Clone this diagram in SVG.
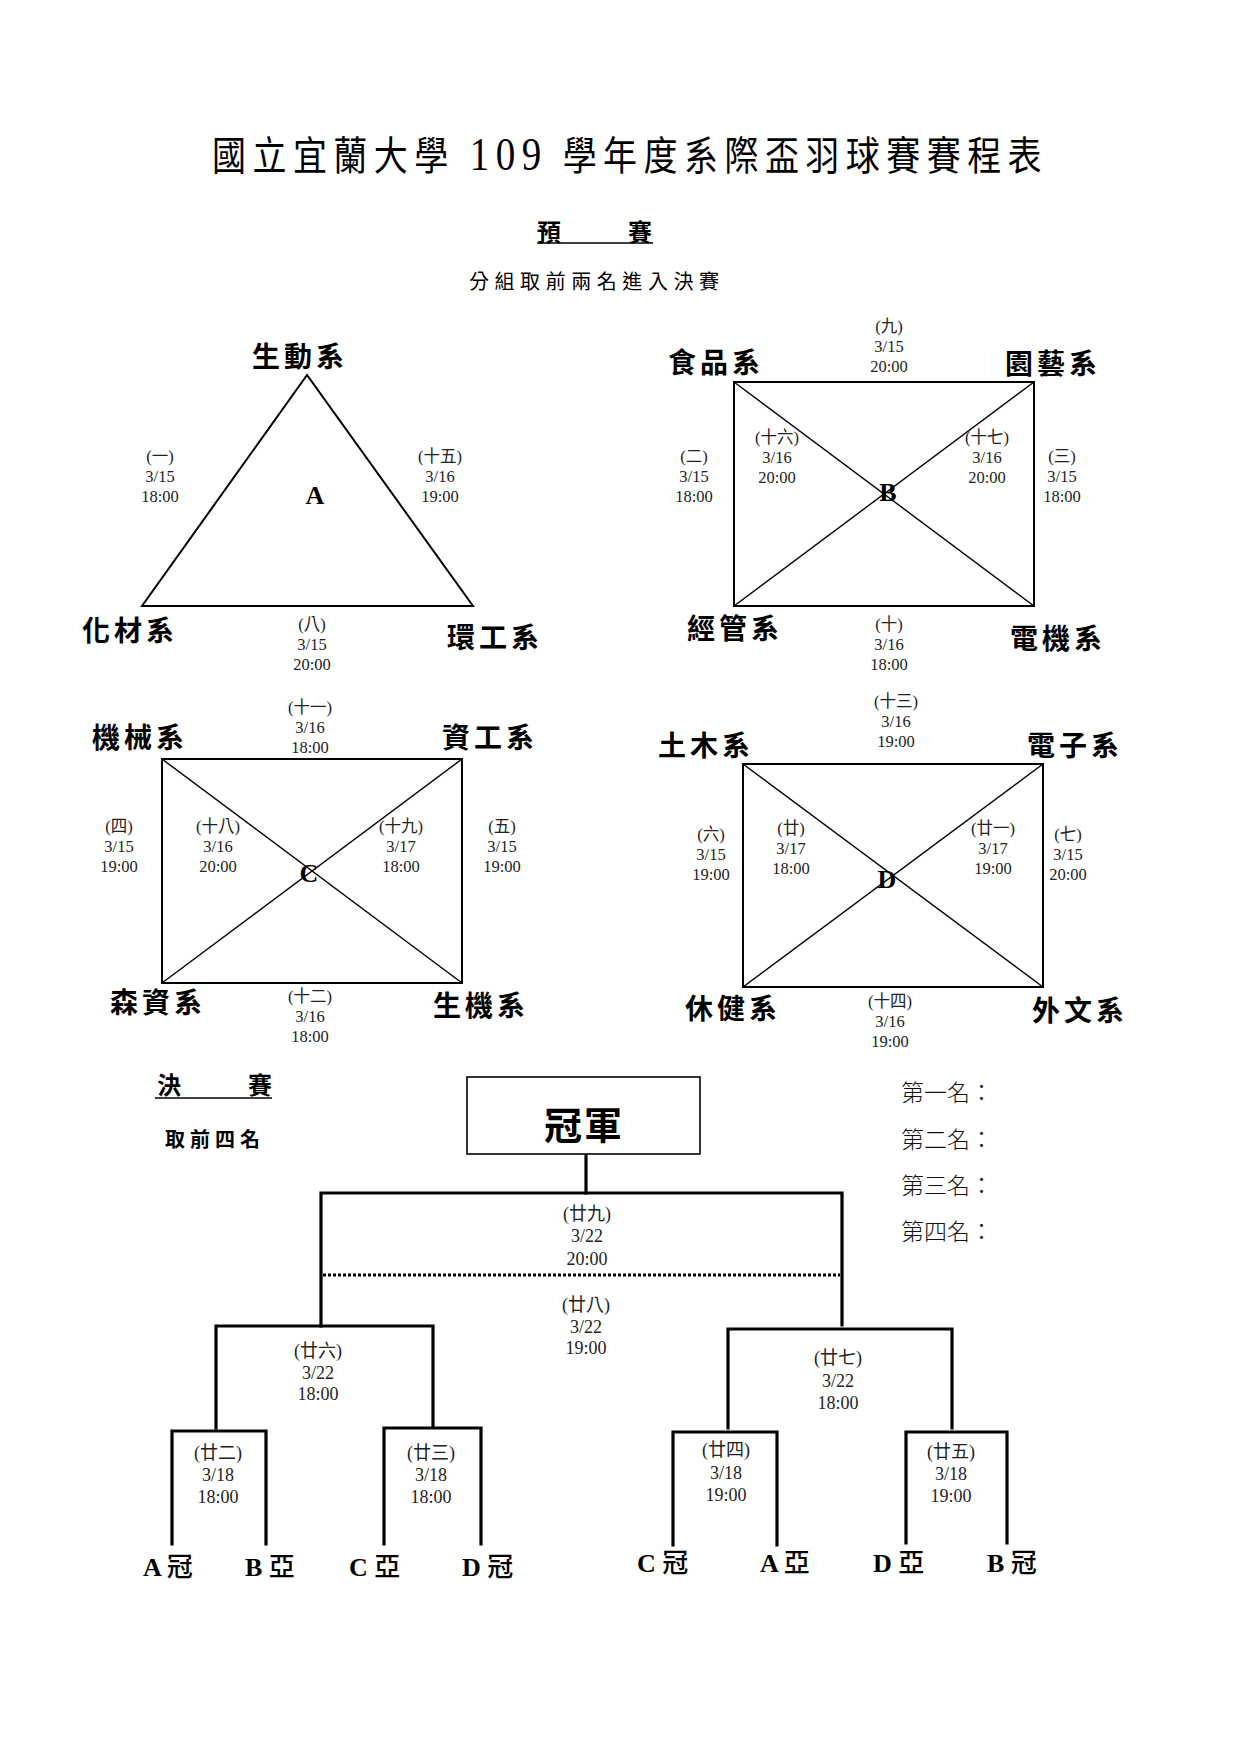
<svg xmlns="http://www.w3.org/2000/svg" width="1240" height="1754" viewBox="0 0 1240 1754">
<style>
.bg{fill:#fff}
.ttl{font-family:"Liberation Serif","Noto Sans CJK TC",serif;font-size:40px;font-weight:400;fill:#000}
.ttl tspan.n{font-size:46px}
.hd{font-family:"Noto Sans CJK TC",sans-serif;font-weight:700;font-size:24px;fill:#000}
.sub{font-family:"Noto Sans CJK TC",sans-serif;font-weight:400;font-size:20px;fill:#000}
.dept{font-family:"Noto Sans CJK TC",sans-serif;font-weight:700;font-size:28px;fill:#000;letter-spacing:4px}
.lb{font-family:"Liberation Serif","Noto Sans CJK TC",serif;font-size:16.5px;fill:#222;text-anchor:middle}
.lb2{font-family:"Liberation Serif","Noto Sans CJK TC",serif;font-size:18px;fill:#222;text-anchor:middle}
.grp{font-family:"Liberation Serif",serif;font-weight:700;font-size:26px;fill:#000;text-anchor:middle}
.seed{font-family:"Liberation Serif","Noto Sans CJK TC",serif;font-weight:700;font-size:26px;fill:#000}
.seed tspan.c{font-family:"Noto Sans CJK TC",sans-serif;font-weight:500}
.rank{font-family:"Noto Sans CJK TC",sans-serif;font-weight:300;font-size:23px;fill:#111}
.edge{stroke:#000;stroke-width:2;fill:none}
.diag{stroke:#000;stroke-width:1.4;fill:none}
.br{stroke:#000;stroke-width:3.2;fill:none;stroke-linecap:square}
.dot{stroke:#000;stroke-width:3;fill:none;stroke-dasharray:3 2}
</style>
<rect class="bg" x="0" y="0" width="1240" height="1754"/>

<g id="title">
<text class="ttl" transform="translate(212,170) scale(0.85,1)" x="0" y="0" textLength="976" lengthAdjust="spacing">國立宜蘭大學 <tspan class="n">109</tspan> 學年度系際盃羽球賽賽程表</text>
<text class="hd" x="537" y="241" textLength="115" lengthAdjust="spacing">預　賽</text>
<line x1="537" y1="243" x2="653" y2="243" stroke="#000" stroke-width="1.6"/>
<text class="sub" x="469" y="289" textLength="250" lengthAdjust="spacing">分組取前兩名進入決賽</text>
</g>

<g id="connectors">
<!-- Group A -->
<polygon class="edge" points="307,375 142,606 473,606" stroke-width="1.6"/>
<!-- Group B -->
<rect class="edge" x="734" y="382" width="300" height="224"/>
<line class="diag" x1="734" y1="382" x2="1034" y2="606"/>
<line class="diag" x1="1034" y1="382" x2="734" y2="606"/>
<!-- Group C -->
<rect class="edge" x="162" y="759" width="300" height="224"/>
<line class="diag" x1="162" y1="759" x2="462" y2="983"/>
<line class="diag" x1="462" y1="759" x2="162" y2="983"/>
<!-- Group D -->
<rect class="edge" x="743" y="764" width="300" height="223"/>
<line class="diag" x1="743" y1="764" x2="1043" y2="987"/>
<line class="diag" x1="1043" y1="764" x2="743" y2="987"/>
<!-- Finals bracket -->
<line x1="586" y1="1154" x2="586" y2="1193" class="br" stroke-width="2.6"/>
<polyline class="br" points="321,1326 321,1193 842,1193 842,1325"/>
<line class="dot" x1="323" y1="1275" x2="840" y2="1275"/>
<polyline class="br" points="216,1428 216,1326 433,1326 433,1426"/>
<polyline class="br" points="172,1544 172,1431 266,1431 266,1544"/>
<polyline class="br" points="384,1544 384,1428 481,1428 481,1544"/>
<polyline class="br" points="728,1428 728,1329 952,1329 952,1428"/>
<polyline class="br" points="673,1545 673,1432 777,1432 777,1545"/>
<polyline class="br" points="906,1543 906,1432 1007,1432 1007,1543"/>
</g>

<g id="group-A">
<text class="grp" x="315" y="504">A</text>
<g id="node-shengdong"><text class="dept" x="252" y="367">生動系</text></g>
<g id="node-huacai"><text class="dept" x="82" y="641">化材系</text></g>
<g id="node-huangong"><text class="dept" x="447" y="648">環工系</text></g>
<text class="lb" x="160" y="462">(一)</text><text class="lb" x="160" y="482">3/15</text><text class="lb" x="160" y="502">18:00</text>
<text class="lb" x="440" y="462">(十五)</text><text class="lb" x="440" y="482">3/16</text><text class="lb" x="440" y="502">19:00</text>
<text class="lb" x="312" y="630">(八)</text><text class="lb" x="312" y="650">3/15</text><text class="lb" x="312" y="670">20:00</text>
</g>

<g id="group-B">
<text class="grp" x="888" y="501">B</text>
<g id="node-shipin"><text class="dept" x="668" y="373">食品系</text></g>
<g id="node-yuanyi"><text class="dept" x="1005" y="374">園藝系</text></g>
<g id="node-jingguan"><text class="dept" x="687" y="639">經管系</text></g>
<g id="node-dianji"><text class="dept" x="1010" y="649">電機系</text></g>
<text class="lb" x="889" y="332">(九)</text><text class="lb" x="889" y="352">3/15</text><text class="lb" x="889" y="372">20:00</text>
<text class="lb" x="694" y="462">(二)</text><text class="lb" x="694" y="482">3/15</text><text class="lb" x="694" y="502">18:00</text>
<text class="lb" x="777" y="443">(十六)</text><text class="lb" x="777" y="463">3/16</text><text class="lb" x="777" y="483">20:00</text>
<text class="lb" x="987" y="443">(十七)</text><text class="lb" x="987" y="463">3/16</text><text class="lb" x="987" y="483">20:00</text>
<text class="lb" x="1062" y="462">(三)</text><text class="lb" x="1062" y="482">3/15</text><text class="lb" x="1062" y="502">18:00</text>
<text class="lb" x="889" y="630">(十)</text><text class="lb" x="889" y="650">3/16</text><text class="lb" x="889" y="670">18:00</text>
</g>

<g id="group-C">
<text class="grp" x="309" y="882">C</text>
<g id="node-jixie"><text class="dept" x="92" y="748">機械系</text></g>
<g id="node-zigong"><text class="dept" x="442" y="748">資工系</text></g>
<g id="node-senzi"><text class="dept" x="110" y="1013">森資系</text></g>
<g id="node-shengji"><text class="dept" x="433" y="1016">生機系</text></g>
<text class="lb" x="310" y="713">(十一)</text><text class="lb" x="310" y="733">3/16</text><text class="lb" x="310" y="753">18:00</text>
<text class="lb" x="119" y="832">(四)</text><text class="lb" x="119" y="852">3/15</text><text class="lb" x="119" y="872">19:00</text>
<text class="lb" x="218" y="832">(十八)</text><text class="lb" x="218" y="852">3/16</text><text class="lb" x="218" y="872">20:00</text>
<text class="lb" x="401" y="832">(十九)</text><text class="lb" x="401" y="852">3/17</text><text class="lb" x="401" y="872">18:00</text>
<text class="lb" x="502" y="832">(五)</text><text class="lb" x="502" y="852">3/15</text><text class="lb" x="502" y="872">19:00</text>
<text class="lb" x="310" y="1002">(十二)</text><text class="lb" x="310" y="1022">3/16</text><text class="lb" x="310" y="1042">18:00</text>
</g>

<g id="group-D">
<text class="grp" x="887" y="888">D</text>
<g id="node-tumu"><text class="dept" x="658" y="756">土木系</text></g>
<g id="node-dianzi"><text class="dept" x="1027" y="756">電子系</text></g>
<g id="node-xiujian"><text class="dept" x="685" y="1019">休健系</text></g>
<g id="node-waiwen"><text class="dept" x="1032" y="1021">外文系</text></g>
<text class="lb" x="896" y="707">(十三)</text><text class="lb" x="896" y="727">3/16</text><text class="lb" x="896" y="747">19:00</text>
<text class="lb" x="711" y="840">(六)</text><text class="lb" x="711" y="860">3/15</text><text class="lb" x="711" y="880">19:00</text>
<text class="lb" x="791" y="834">(廿)</text><text class="lb" x="791" y="854">3/17</text><text class="lb" x="791" y="874">18:00</text>
<text class="lb" x="993" y="834">(廿一)</text><text class="lb" x="993" y="854">3/17</text><text class="lb" x="993" y="874">19:00</text>
<text class="lb" x="1068" y="840">(七)</text><text class="lb" x="1068" y="860">3/15</text><text class="lb" x="1068" y="880">20:00</text>
<text class="lb" x="890" y="1007">(十四)</text><text class="lb" x="890" y="1027">3/16</text><text class="lb" x="890" y="1047">19:00</text>
</g>

<g id="finals-header">
<text class="hd" x="157" y="1094" textLength="115" lengthAdjust="spacing">決　賽</text>
<line x1="155" y1="1098" x2="272" y2="1098" stroke="#000" stroke-width="1.6"/>
<text class="hd" x="165" y="1147" textLength="95" lengthAdjust="spacing" style="font-size:20px">取前四名</text>
</g>

<g id="node-champion">
<rect x="467" y="1077" width="233" height="77" fill="#fff" stroke="#000" stroke-width="1.6"/>
<text x="584" y="1139" text-anchor="middle" style="font-family:'Noto Sans CJK TC',sans-serif;font-weight:700;font-size:38px;letter-spacing:2px">冠軍</text>
</g>

<g id="ranking">
<text class="rank" x="901" y="1101">第一名：</text>
<text class="rank" x="901" y="1148">第二名：</text>
<text class="rank" x="901" y="1194">第三名：</text>
<text class="rank" x="901" y="1240">第四名：</text>
</g>

<g id="match-labels">
<text class="lb2" x="587" y="1220">(廿九)</text><text class="lb2" x="587" y="1242">3/22</text><text class="lb2" x="587" y="1265">20:00</text>
<text class="lb2" x="586" y="1311">(廿八)</text><text class="lb2" x="586" y="1333">3/22</text><text class="lb2" x="586" y="1354">19:00</text>
<text class="lb2" x="318" y="1357">(廿六)</text><text class="lb2" x="318" y="1379">3/22</text><text class="lb2" x="318" y="1400">18:00</text>
<text class="lb2" x="838" y="1364">(廿七)</text><text class="lb2" x="838" y="1387">3/22</text><text class="lb2" x="838" y="1409">18:00</text>
<text class="lb2" x="218" y="1459">(廿二)</text><text class="lb2" x="218" y="1481">3/18</text><text class="lb2" x="218" y="1503">18:00</text>
<text class="lb2" x="431" y="1459">(廿三)</text><text class="lb2" x="431" y="1481">3/18</text><text class="lb2" x="431" y="1503">18:00</text>
<text class="lb2" x="726" y="1456">(廿四)</text><text class="lb2" x="726" y="1479">3/18</text><text class="lb2" x="726" y="1501">19:00</text>
<text class="lb2" x="951" y="1458">(廿五)</text><text class="lb2" x="951" y="1480">3/18</text><text class="lb2" x="951" y="1502">19:00</text>
</g>

<g id="seeds">
<g id="node-seed-A1"><text class="seed" x="143" y="1576">A <tspan class="c">冠</tspan></text></g>
<g id="node-seed-B2"><text class="seed" x="245" y="1576">B <tspan class="c">亞</tspan></text></g>
<g id="node-seed-C2"><text class="seed" x="349" y="1576">C <tspan class="c">亞</tspan></text></g>
<g id="node-seed-D1"><text class="seed" x="462" y="1576">D <tspan class="c">冠</tspan></text></g>
<g id="node-seed-C1"><text class="seed" x="637" y="1572">C <tspan class="c">冠</tspan></text></g>
<g id="node-seed-A2"><text class="seed" x="760" y="1572">A <tspan class="c">亞</tspan></text></g>
<g id="node-seed-D2"><text class="seed" x="873" y="1572">D <tspan class="c">亞</tspan></text></g>
<g id="node-seed-B1"><text class="seed" x="987" y="1572">B <tspan class="c">冠</tspan></text></g>
</g>
</svg>
